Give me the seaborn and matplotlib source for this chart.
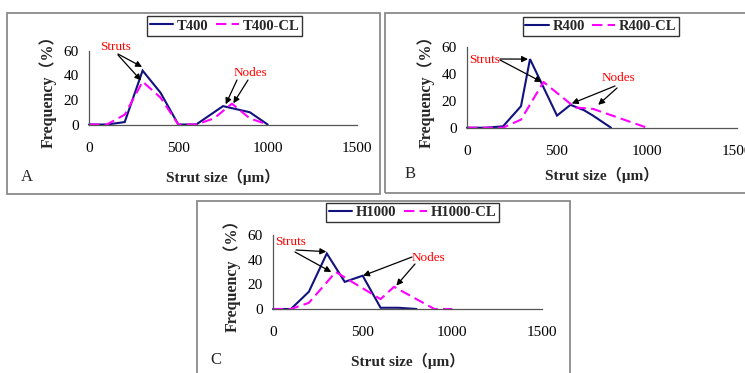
import matplotlib
matplotlib.use("Agg")
import matplotlib.pyplot as plt
import seaborn as sns
import pandas as pd
from matplotlib.patches import Rectangle

# ---------------- data ----------------
t400_x = [0, 100, 200, 300, 400, 500, 600, 750, 900, 1000]
t400_y = [0, 0, 2, 44, 26, 0, 0, 15, 10, 0]
t400cl_x = [0, 100, 200, 300, 400, 500, 600, 700, 800, 900, 1000]
t400cl_y = [0, 0, 8, 35, 22, 0, 0, 5, 17, 5, 0]

r400_x = [0, 100, 200, 300, 350, 500, 575, 650, 700, 800]
r400_y = [0, 0, 1, 16, 51, 9, 17, 13, 9, 0]
r400cl_x = [0, 100, 200, 300, 425, 600, 700, 1000]
r400cl_y = [0, 0, 0, 6, 34, 15, 14, 0]

h1000_x = [0, 100, 200, 300, 400, 500, 600, 700, 800]
h1000_y = [0, 0, 14, 45, 22, 27, 1, 1, 0]
h1000cl_x = [0, 100, 200, 350, 600, 675, 900, 1000]
h1000cl_y = [0, 0, 5, 30, 8, 18, 0, 0]

x_ticks = [0, 500, 1000, 1500]
y_ticks = [0, 20, 40, 60]
x_label = "Strut size（μm）"
y_label = "Frequency（%）"

W, H = 745, 373
NAVY = "#12127e"
MAG = "#ff00ff"

sns.set_theme(style="white")
plt.rcParams["font.family"] = ["Liberation Serif", "Noto Sans CJK SC"]

fig = plt.figure(figsize=(W / 100, H / 100), dpi=100)
fig.patch.set_facecolor("white")


def ff(x, y):
    return (x / W, 1 - y / H)


def rect(left, top, right, bottom):
    return [left / W, 1 - bottom / H, (right - left) / W, (bottom - top) / H]


# panel frames
for (x0, y0, x1, y1) in [(7, 13, 380, 194), (385, 13, 752, 193), (197, 201, 570, 380)]:
    fig.add_artist(Rectangle((x0 / W, 1 - y1 / H), (x1 - x0) / W, (y1 - y0) / H,
                             transform=fig.transFigure, fill=False,
                             edgecolor="#8a8a8a", lw=1.3))

panels = [
    dict(name="T400", xs=t400_x, ys=t400_y, xcl=t400cl_x, ycl=t400cl_y,
         box=(89, 51, 357, 124.5), leg=(224.5, 26), letter=("A", 27, 177),
         xlab_y=176.5,
         struts_txt=(116, 47), struts_tail=[(118, 54), (118, 55)],
         struts_tip=[(297, 47), (291, 36)],
         nodes_txt=(250, 73), nodes_tail=[(237, 80), (248, 80)],
         nodes_tip=[(765, 16.5), (808, 17.3)]),
    dict(name="R400", xs=r400_x, ys=r400_y, xcl=r400cl_x, ycl=r400cl_y,
         box=(467, 47, 737, 127.7), leg=(601, 26.5), letter=("B", 410, 174),
         xlab_y=175,
         struts_txt=(485, 60), struts_tail=[(500, 59), (500, 60)],
         struts_tip=[(339, 51), (415, 34)],
         nodes_txt=(618, 78), nodes_tail=[(615, 86), (617, 88)],
         nodes_tip=[(582, 18), (729, 17)]),
    dict(name="H1000", xs=h1000_x, ys=h1000_y, xcl=h1000cl_x, ycl=h1000cl_y,
         box=(273, 235, 542, 309), leg=(412.5, 212.5), letter=("C", 216, 360),
         xlab_y=361,
         struts_txt=(291, 242), struts_tail=[(296, 250), (295, 252)],
         struts_tip=[(297, 46.5), (325, 30)],
         nodes_txt=(428, 258), nodes_tail=[(412, 257), (415, 264)],
         nodes_tip=[(502, 27), (688, 19)]),
]

for p in panels:
    ax = fig.add_axes(rect(*p["box"]))
    name = p["name"]
    df = pd.concat([
        pd.DataFrame({"size": p["xs"], "freq": p["ys"], "series": name}),
        pd.DataFrame({"size": p["xcl"], "freq": p["ycl"], "series": name + "-CL"}),
    ], ignore_index=True)
    sns.lineplot(data=df, x="size", y="freq", hue="series", style="series",
                 palette={name: NAVY, name + "-CL": MAG},
                 dashes={name: "", name + "-CL": (5, 2.5)},
                 hue_order=[name, name + "-CL"], style_order=[name, name + "-CL"],
                 lw=1.5, ax=ax, legend=False, sort=False)
    for ln in ax.lines:
        ln.set_clip_on(False)
        ln.set_solid_joinstyle("miter")

    ax.set_xlim(0, 1500)
    ax.set_ylim(0, 60)
    ax.set_xticks(x_ticks)
    ax.set_yticks(y_ticks)
    ax.set_xticklabels([str(t) for t in x_ticks])
    ax.set_yticklabels([str(t) for t in y_ticks])
    for s in ["top", "right"]:
        ax.spines[s].set_visible(False)
    for s in ["left", "bottom"]:
        ax.spines[s].set_color("#555555")
        ax.spines[s].set_linewidth(0.9)
    ax.tick_params(axis="both", direction="in", length=3, width=0.8, color="#555555",
                   labelsize=11, labelcolor="black")
    ax.tick_params(axis="x", pad=12.5)
    ax.tick_params(axis="y", pad=7.5)
    ax.set_facecolor("none")

    x0, y0, x1, y1 = p["box"]
    ax.set_xlabel(x_label, fontsize=11, fontweight="bold", va="center")
    ax.xaxis.set_label_coords(0.5, -(p["xlab_y"] - y1) / (y1 - y0))
    ax.set_ylabel(y_label, fontsize=11.5, fontweight="bold", va="center")
    ax.yaxis.set_label_coords(-41.5 / (x1 - x0), 0.5)

    leg = ax.legend(handles=ax.lines[:2], labels=[name, name + "-CL"],
                    loc="center", bbox_to_anchor=ff(*p["leg"]),
                    bbox_transform=fig.transFigure, ncol=2, frameon=True,
                    fancybox=False, edgecolor="black", handlelength=1.6,
                    handletextpad=0.25, columnspacing=0.5, borderpad=0.2,
                    borderaxespad=0, prop={"size": 10.5, "weight": "bold"})
    leg.get_frame().set_linewidth(1.0)

    L, lx, ly = p["letter"]
    fig.text(*ff(lx, ly), L, fontsize=12, ha="center", va="center")

    # annotations
    fig.text(*ff(*p["struts_txt"]), "Struts", color="red", fontsize=9.5,
             ha="center", va="center")
    fig.text(*ff(*p["nodes_txt"]), "Nodes", color="red", fontsize=9.5,
             ha="center", va="center")
    for tails, tips in [(p["struts_tail"], p["struts_tip"]), (p["nodes_tail"], p["nodes_tip"])]:
        for tail, tip in zip(tails, tips):
            ax.annotate("", xy=tip, xycoords="data", xytext=ff(*tail),
                        textcoords="figure fraction", annotation_clip=False,
                        arrowprops=dict(arrowstyle="-|>", color="black", lw=0.9,
                                        mutation_scale=9, shrinkA=0, shrinkB=0))

fig.savefig("out.png", dpi=100)
